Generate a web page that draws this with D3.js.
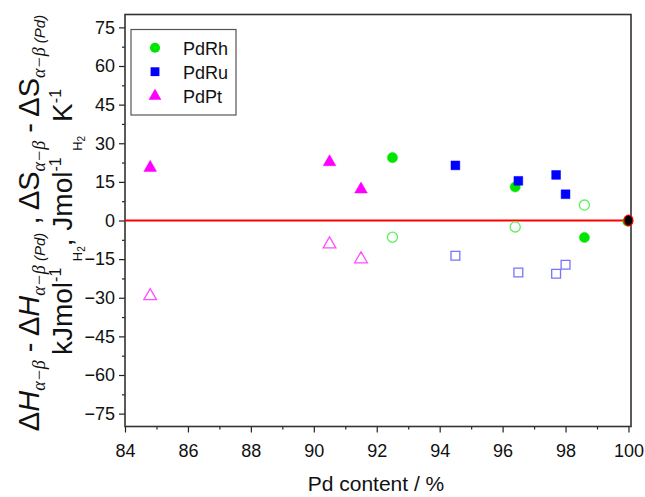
<!DOCTYPE html>
<html><head><meta charset="utf-8">
<script src="https://cdn.jsdelivr.net/npm/d3@7"></script>
<style>
body{margin:0;background:#fff;}
svg{display:block;font-family:"Liberation Sans",Arial,sans-serif;}
</style></head>
<body><svg id="c" width="645" height="497"></svg>
<script>
// ---- data ----
const rhX = [92.5, 96.4, 98.6];
const rhFilled = [24.4, 13.0, -6.6];
const rhOpen = [-6.5, -2.5, 6.0];
const ruX = [94.5, 96.5, 97.7, 98.0];
const ruFilled = [21.4, 15.4, 17.7, 10.2];
const ruOpen = [-13.7, -20.2, -20.7, -17.2];
const ptX = [84.8, 90.5, 91.5];
const ptFilled = [20.5, 22.7, 12.1];
const ptOpen = [-29.3, -9.2, -15.0];
const refX = [100];
const refY = [0];
const xTicks = [84, 86, 88, 90, 92, 94, 96, 98, 100];
const xMinor = [85, 87, 89, 91, 93, 95, 97, 99];
const yTicks = [-75, -60, -45, -30, -15, 0, 15, 30, 45, 60, 75];
const yMinor = [-67.5, -52.5, -37.5, -22.5, -7.5, 7.5, 22.5, 37.5, 52.5, 67.5];
const legendNames = ["PdRh", "PdRu", "PdPt"];

// ---- layout ----
const svg = d3.select("#c");
const L = 125, R = 631, T = 14.5, B = 426.5;
const x = d3.scaleLinear().domain([84, 100.08]).range([L, R]);
const y = d3.scaleLinear().domain([-80, 80]).range([B, T]);

const cGreen = "#00e600", cBlue = "#0000ff", cMag = "#ff00ff";
const oGreen = "#5cf25c", oBlue = "#7474ff", oMag = "#ff4dff";

// axes
const fs = "18px";
svg.append("g").attr("transform", `translate(0,${B})`)
  .call(d3.axisBottom(x).tickValues(xTicks).tickSize(6).tickPadding(12).tickFormat(d3.format("d")));
svg.append("g").attr("transform", `translate(0,${B})`)
  .call(d3.axisBottom(x).tickValues(xMinor).tickSize(3).tickFormat(""));
svg.append("g").attr("transform", `translate(${L},0)`)
  .call(d3.axisLeft(y).tickValues(yTicks).tickSize(6).tickPadding(4).tickFormat(d3.format("d")));
svg.append("g").attr("transform", `translate(${L},0)`)
  .call(d3.axisLeft(y).tickValues(yMinor).tickSize(3).tickFormat(""));
svg.selectAll(".domain").remove();
svg.selectAll(".tick line").attr("stroke", "#222").attr("stroke-width", 1.2);
svg.selectAll(".tick text").attr("font-size", fs).attr("fill", "#111")
  .attr("font-family", '"Liberation Sans",Arial,sans-serif');

// frame
svg.append("rect").attr("x", L).attr("y", T).attr("width", R - L).attr("height", B - T)
  .attr("fill", "none").attr("stroke", "#333").attr("stroke-width", 1.6);

// zero line
svg.append("line").attr("x1", L).attr("x2", R).attr("y1", y(0)).attr("y2", y(0))
  .attr("stroke", "#ff0000").attr("stroke-width", 2);

// symbols
const circ = d3.symbol().type(d3.symbolCircle).size(80);
const sq = d3.symbol().type(d3.symbolSquare).size(78);
const tri = d3.symbol().type(d3.symbolTriangle).size(70);

function draw(xs, ys, sym, color, filled) {
  svg.append("g").selectAll("path").data(xs.map((d, i) => [d, ys[i]])).join("path")
    .attr("d", sym)
    .attr("transform", d => `translate(${x(d[0])},${y(d[1])})`)
    .attr("fill", filled ? color : "none")
    .attr("stroke", color)
    .attr("stroke-width", filled ? 0.5 : 1.3);
}
draw(ptX, ptOpen, tri, oMag, false);
draw(rhX, rhOpen, circ, oGreen, false);
draw(ruX, ruOpen, sq, oBlue, false);
draw(ptX, ptFilled, tri, cMag, true);
draw(rhX, rhFilled, circ, cGreen, true);
draw(ruX, ruFilled, sq, cBlue, true);

// Pd reference point
svg.append("g").selectAll("circle").data(refX).join("circle")
  .attr("cx", d => x(d) - 1).attr("cy", (d, i) => y(refY[i]) + 1).attr("r", 5).attr("fill", cGreen);
svg.append("g").selectAll("ellipse").data(refX).join("ellipse")
  .attr("cx", d => x(d)).attr("cy", (d, i) => y(refY[i])).attr("rx", 4.5).attr("ry", 5.5)
  .attr("fill", "#000").attr("stroke", "#ff0000").attr("stroke-width", 1.2);

// legend
const lg = svg.append("g");
lg.append("rect").attr("x", 131).attr("y", 29.5).attr("width", 105).attr("height", 85.5)
  .attr("fill", "#fff").attr("stroke", "#555").attr("stroke-width", 1.2);
const legSyms = [circ, sq, tri], legCols = [cGreen, cBlue, cMag], legY = [47.7, 71.7, 96];
legendNames.forEach((n, i) => {
  lg.append("path").attr("d", legSyms[i]).attr("transform", `translate(155,${legY[i]})`)
    .attr("fill", legCols[i]);
  lg.append("text").attr("x", 183).attr("y", legY[i] + 7).attr("font-size", "18px")
    .attr("fill", "#111").text(n);
});

// x title
svg.append("text").attr("x", 376).attr("y", 491).attr("text-anchor", "middle")
  .attr("font-size", "21px").attr("fill", "#111").text("Pd content / %");

// rich text helper
function rich(t, segs) {
  let cur = 0;
  segs.forEach(s => {
    const target = s.off || 0;
    const ts = t.append("tspan").text(s.t);
    if (target !== cur) { ts.attr("dy", target - cur); cur = target; }
    if (s.size) ts.attr("font-size", s.size + "px");
    if (s.it) ts.attr("font-style", "italic");
    if (s.serif) ts.attr("font-family", '"Liberation Serif","Times New Roman",serif');
  });
}
const AB = "\u03b1\u2212\u03b2";
// y title line 1
const t1 = svg.append("text").attr("transform", "translate(39,223) rotate(-90)")
  .attr("text-anchor", "middle").attr("font-size", "29px").attr("fill", "#111");
rich(t1, [
  {t: "\u0394"}, {t: "H", it: true},
  {t: AB, off: 6, size: 18, it: true, serif: true},
  {t: " - \u0394"}, {t: "H", it: true},
  {t: AB, off: 6, size: 18, it: true, serif: true},
  {t: " (Pd)", off: 6, size: 15, it: true},
  {t: " , \u0394S"},
  {t: AB, off: 6, size: 18, it: true, serif: true},
  {t: " - \u0394S"},
  {t: AB, off: 6, size: 18, it: true, serif: true},
  {t: " (Pd)", off: 6, size: 15, it: true}
]);

// y title line 2
const t2 = svg.append("text").attr("transform", "translate(72,222) rotate(-90)")
  .attr("text-anchor", "middle").attr("font-size", "28px").attr("fill", "#111");
rich(t2, [
  {t: "kJmol"}, {t: "-1", off: -11, size: 16},
  {t: "\u2002H", off: 10, size: 13}, {t: "2", off: 13, size: 10},
  {t: ", Jmol"}, {t: "-1", off: -11, size: 16},
  {t: "\u2002H", off: 10, size: 13}, {t: "2", off: 13, size: 10},
  {t: "\u2002K"}, {t: "-1", off: -11, size: 16}
]);
</script></body></html>
